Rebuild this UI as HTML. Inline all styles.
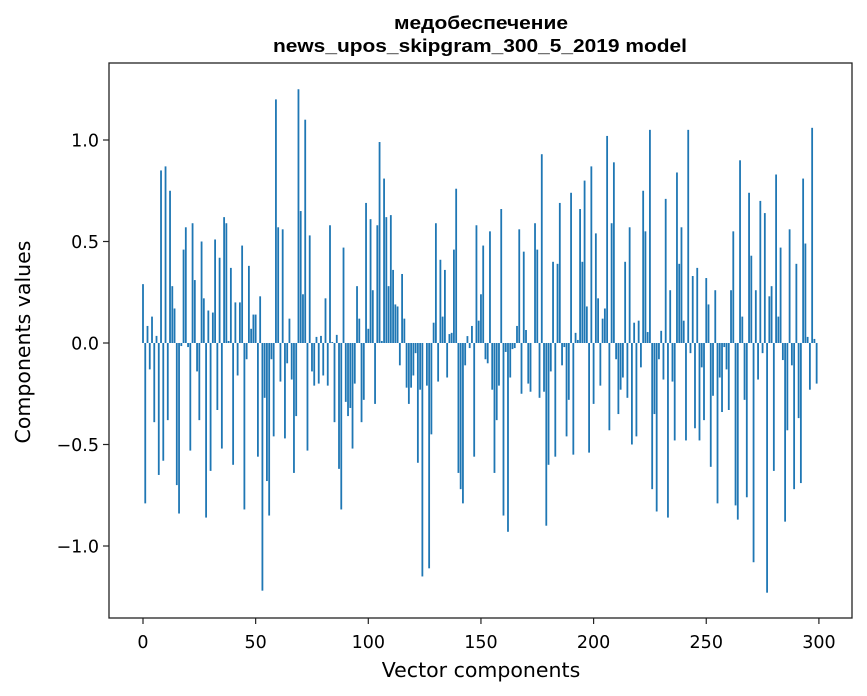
<!DOCTYPE html>
<html><head><meta charset="utf-8"><style>
html,body{margin:0;padding:0;background:#fff;}
svg{display:block;}
</style></head><body>
<svg id="chart" width="867" height="696" xmlns="http://www.w3.org/2000/svg">
<text x="481" y="29" text-anchor="middle" font-family="Liberation Sans, Arial, sans-serif" font-weight="bold" font-size="18" textLength="174" lengthAdjust="spacingAndGlyphs">медобеспечение</text>
<text x="480" y="52" text-anchor="middle" font-family="Liberation Sans, Arial, sans-serif" font-weight="bold" font-size="18" textLength="414" lengthAdjust="spacingAndGlyphs">news_upos_skipgram_300_5_2019 model</text>
<g id="bars"></g>
<g id="axes"></g>
<text x="481" y="677" text-anchor="middle" font-family="DejaVu Sans, sans-serif" font-size="20.5">Vector components</text>
<text transform="translate(30,342) rotate(-90)" text-anchor="middle" font-family="DejaVu Sans, sans-serif" font-size="20.5">Components values</text>
</svg>
<script>
const values = [
0.29,-0.79,0.084,-0.13,0.13,-0.39,0.035,-0.65,0.85,-0.58,
0.87,-0.38,0.75,0.28,0.17,-0.70,-0.84,-0.015,0.46,0.57,
-0.02,-0.53,0.59,0.31,-0.14,-0.38,0.50,0.22,-0.86,0.16,
-0.63,0.15,0.51,-0.33,0.42,-0.52,0.62,0.59,0.01,0.37,
-0.60,0.20,-0.16,0.20,0.48,-0.82,-0.08,0.38,0.07,0.14,
0.14,-0.56,0.23,-1.22,-0.27,-0.68,-0.85,-0.08,-0.46,1.20,
0.57,-0.19,0.56,-0.47,-0.10,0.12,-0.18,-0.64,-0.36,1.25,
0.65,0.24,1.10,-0.53,0.53,-0.14,-0.21,0.03,-0.20,0.035,
-0.16,0.22,-0.21,0.58,0.005,-0.39,0.04,-0.62,-0.82,0.47,
-0.29,-0.36,-0.32,-0.52,-0.20,0.28,0.12,-0.39,-0.28,0.69,
0.07,0.61,0.26,-0.30,0.58,0.99,0.01,0.81,0.62,0.28,
0.63,0.36,0.19,0.18,-0.11,0.34,0.12,-0.22,-0.30,-0.22,
-0.16,-0.05,-0.59,-0.23,-1.15,0.0,-0.21,-1.11,-0.45,0.10,
0.59,-0.19,0.41,0.13,0.36,-0.17,0.044,0.05,0.46,0.76,
-0.64,-0.72,-0.79,-0.11,0.034,-0.025,0.084,-0.56,0.58,0.11,
0.24,0.48,-0.08,-0.10,0.55,-0.23,-0.64,-0.38,-0.21,0.66,
-0.85,-0.044,-0.93,-0.17,-0.03,-0.025,0.084,0.56,-0.25,0.45,
0.064,-0.20,-0.24,0.0,0.59,0.46,-0.27,0.93,-0.24,-0.90,
-0.60,-0.14,0.40,-0.56,0.39,0.69,-0.11,-0.02,-0.46,-0.28,
0.74,-0.55,0.05,0.015,0.66,0.40,0.80,0.18,-0.54,0.87,
-0.30,0.54,0.22,-0.21,0.12,0.17,1.02,-0.43,0.59,0.89,
-0.08,-0.35,-0.23,-0.17,0.40,-0.27,0.57,-0.50,0.10,-0.46,
0.11,-0.12,0.75,0.55,0.054,1.05,-0.72,-0.35,-0.83,-0.08,
0.06,-0.18,0.71,-0.86,0.26,-0.19,-0.48,0.84,0.39,0.57,
0.11,-0.48,1.05,-0.05,0.33,-0.42,0.37,-0.48,-0.12,-0.38,
0.32,0.19,-0.61,-0.26,0.26,-0.79,-0.17,-0.34,-0.02,-0.13,
-0.33,0.26,0.55,-0.80,-0.87,0.90,0.13,-0.28,-0.76,0.74,
0.43,-1.08,0.26,-0.18,0.70,-0.05,0.64,-1.23,0.23,0.28,
-0.63,0.83,0.13,0.47,-0.084,-0.88,-0.43,0.56,-0.11,-0.72,
0.39,-0.37,-0.69,0.81,0.49,0.03,-0.23,1.06,0.02,-0.20
];
const xTicks = [0,50,100,150,200,250,300];
const yTicks = [-1.0,-0.5,0.0,0.5,1.0];
const yTickLabels = ["\u22121.0","\u22120.5","0.0","0.5","1.0"];

const L=109, R=852, T=63, B=618;
const x0 = 143, xs = 2.253;
const y0 = 343, ys = 203;
function X(v){return x0 + v*xs;}
function Y(v){return y0 - v*ys;}
const NS="http://www.w3.org/2000/svg";
const bars=document.getElementById('bars');
values.forEach((v,i)=>{
  const r=document.createElementNS(NS,'rect');
  const bw=0.8*xs;
  r.setAttribute('x',X(i)-bw/2);
  r.setAttribute('width',bw);
  r.setAttribute('y',Math.min(Y(v),Y(0)));
  r.setAttribute('height',Math.abs(Y(v)-Y(0)));
  r.setAttribute('fill','#1f77b4');
  
  
  bars.appendChild(r);
});
const axes=document.getElementById('axes');
const frame=document.createElementNS(NS,'rect');
frame.setAttribute('x',L);frame.setAttribute('y',T);
frame.setAttribute('width',R-L);frame.setAttribute('height',B-T);
frame.setAttribute('fill','none');frame.setAttribute('stroke','#222');frame.setAttribute('stroke-width','1.3');


axes.appendChild(frame);
xTicks.forEach(t=>{
  const l=document.createElementNS(NS,'line');
  l.setAttribute('x1',X(t));l.setAttribute('x2',X(t));l.setAttribute('y1',B);l.setAttribute('y2',B+6);
  l.setAttribute('stroke','#222');l.setAttribute('stroke-width','1.2');
  
  
  axes.appendChild(l);
  const tx=document.createElementNS(NS,'text');
  tx.setAttribute('x',X(t));tx.setAttribute('y',648);tx.setAttribute('text-anchor','middle');
  tx.setAttribute('font-family','DejaVu Sans, sans-serif');tx.setAttribute('font-size','17.5');
  tx.textContent=String(t);
  
  
  axes.appendChild(tx);
});
yTicks.forEach((t,i)=>{
  const l=document.createElementNS(NS,'line');
  l.setAttribute('x1',L-6);l.setAttribute('x2',L);l.setAttribute('y1',Y(t));l.setAttribute('y2',Y(t));
  l.setAttribute('stroke','#222');l.setAttribute('stroke-width','1.2');
  
  
  axes.appendChild(l);
  const tx=document.createElementNS(NS,'text');
  tx.setAttribute('x',L-10);tx.setAttribute('y',Y(t)+6.5);tx.setAttribute('text-anchor','end');
  tx.setAttribute('font-family','DejaVu Sans, sans-serif');tx.setAttribute('font-size','17.5');
  tx.textContent=yTickLabels[i];
  
  
  axes.appendChild(tx);
});
</script>
</body></html>
